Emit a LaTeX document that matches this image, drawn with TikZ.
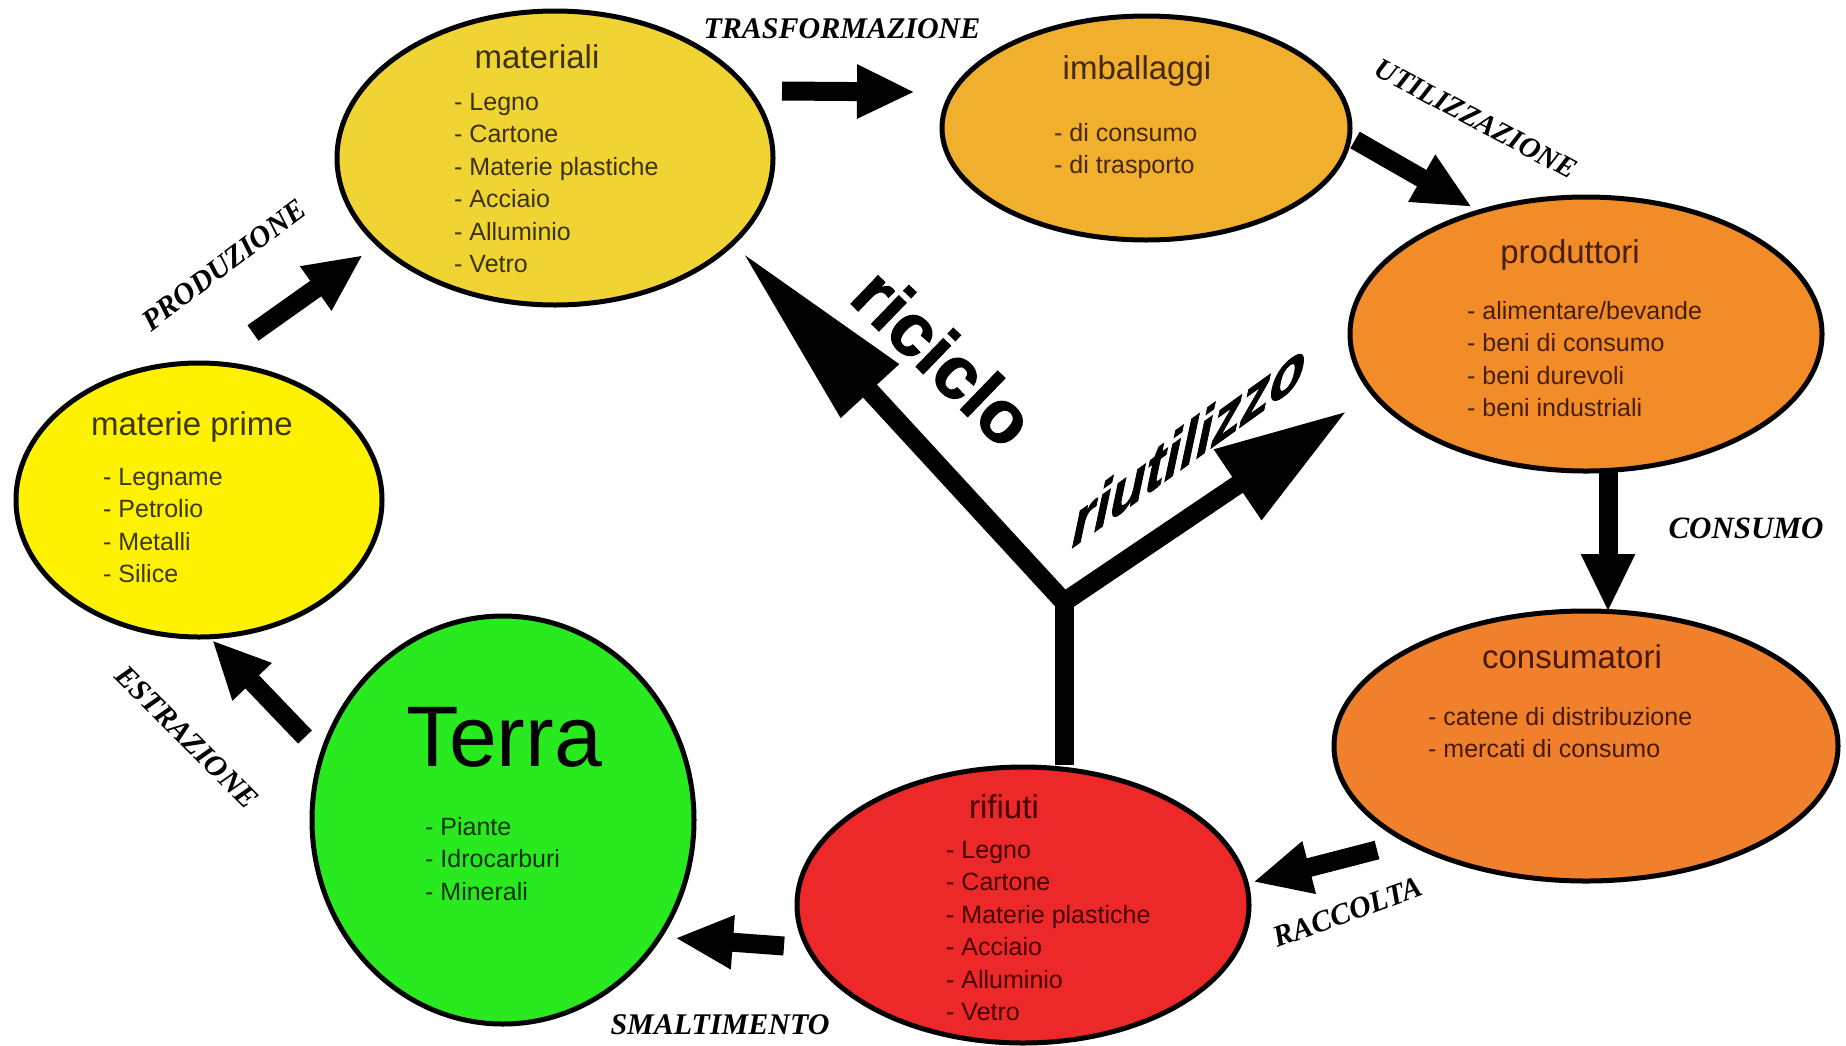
\documentclass[tikz,border=0pt]{standalone}
\usepackage{fontspec}
\setmainfont{Liberation Sans}
\newfontfamily\lblfont{Liberation Serif}
\newfontfamily\heavyfont[BoldFeatures={FakeBold=1.5}]{Liberation Sans}
\usetikzlibrary{shapes.geometric,arrows.meta}
\definecolor{cMP}{RGB}{255,242,0}
\definecolor{cMPT}{RGB}{60,55,0}
\definecolor{cMat}{RGB}{240,212,52}
\definecolor{cMatT}{RGB}{60,50,0}
\definecolor{cImb}{RGB}{240,176,46}
\definecolor{cImbT}{RGB}{70,40,0}
\definecolor{cProd}{RGB}{242,140,40}
\definecolor{cProdT}{RGB}{70,30,0}
\definecolor{cCons}{RGB}{240,128,44}
\definecolor{cConsT}{RGB}{70,25,0}
\definecolor{cRif}{RGB}{236,40,40}
\definecolor{cRifT}{RGB}{70,0,0}
\definecolor{cTerra}{RGB}{40,234,30}
\definecolor{cTerraT}{RGB}{10,50,0}
\tikzset{
  ell/.style={ellipse, draw=black, line width=5pt, inner sep=0pt},
  ttl/.style={font=\fontsize{33}{40}\selectfont, text height=24pt, text depth=0pt, inner sep=0pt},
  itm/.style={font=\fontsize{25}{32.5}\selectfont, align=left, anchor=north west, inner sep=0pt},
  lbl/.style={font=\lblfont\bfseries\itshape\fontsize{30}{36}\selectfont, inner sep=0pt},
  blk/.style={line width=19pt, -{Triangle[length=58pt,width=50pt]}},
}
\begin{document}
\begin{tikzpicture}[x=1pt,y=-1pt]
\useasboundingbox (0,0) rectangle (1846,1045);
\fill[white] (0,0) rectangle (1846,1045);

% ellipses
\node[ell, fill=cMP, minimum width=366pt, minimum height=274pt] (mp) at (199,500) {};
\node[ell, fill=cMat, minimum width=436pt, minimum height=294pt] (mat) at (555,158) {};
\node[ell, fill=cImb, minimum width=408pt, minimum height=224pt] (imb) at (1146,128) {};
\node[ell, fill=cProd, minimum width=472pt, minimum height=274pt] (prod) at (1586,334) {};
\node[ell, fill=cCons, minimum width=504pt, minimum height=270pt] (cons) at (1586,746) {};
\node[ell, fill=cRif, minimum width=452pt, minimum height=276pt] (rif) at (1023,905) {};
\node[ell, fill=cTerra, minimum width=382pt, minimum height=408pt] (terra) at (503,820) {};

% block arrows
\coordinate (t1) at (782,91);   \coordinate (h1) at (915,92);
\coordinate (t2) at (1355,140); \coordinate (h2) at (1472,207);
\coordinate (t3) at (253,333);  \coordinate (h3) at (363,255);
\coordinate (t4) at (305,737);  \coordinate (h4) at (212,640);
\coordinate (t5) at (1608,470); \coordinate (h5) at (1608,612);
\coordinate (t6) at (1377,850); \coordinate (h6) at (1253,882);
\coordinate (t7) at (784,946);  \coordinate (h7) at (675,938);
\draw[blk] (t1) -- (h1);
\draw[blk] (t2) -- (h2);
\draw[blk] (t3) -- (h3);
\draw[blk] (t4) -- (h4);
\draw[blk] (t5) -- (h5);
\draw[blk] (t6) -- (h6);
\draw[blk] (t7) -- (h7);

% Y arrows
\coordinate (J) at (1064,602);
\coordinate (ricT) at (742,252);
\coordinate (riuT) at (1347,411);
\draw[line width=19pt] (J |- rif.north) -- ([yshift=-2pt]J);
\draw[line width=19pt, line join=miter, {Triangle[length=189pt,width=74pt]}-{Triangle[length=132pt,width=80pt]}] (ricT) -- (J) -- (riuT);

% titles
\node[ttl, text=cMPT] (mpT) at (192,423) {materie prime};
\node[ttl, text=cMatT] (matT) at (537,56) {materiali};
\node[ttl, text=cImbT] (imbT) at (1137,67) {imballaggi};
\node[ttl, text=cProdT] (prodT) at (1570,251) {produttori};
\node[ttl, text=cConsT] (consT) at (1572,656) {consumatori};
\node[ttl, text=cRifT] (rifT) at (1004,806) {rifiuti};
\node[font=\fontsize{86}{90}\selectfont, inner sep=0pt, text height=62pt, text depth=0pt] (terraT) at (504,735) {Terra};

% items
\node[itm, text=cMPT] (mpI) at (103,468) {- Legname\\- Petrolio\\- Metalli\\- Silice};
\node[itm, text=cMatT] (matI) at (454,93) {- Legno\\- Cartone\\- Materie plastiche\\- Acciaio\\- Alluminio\\- Vetro};
\node[itm, text=cImbT] (imbI) at (1054,123) {- di consumo\\- di trasporto};
\node[itm, text=cProdT] (prodI) at (1467,301) {- alimentare/bevande\\- beni di consumo\\- beni durevoli\\- beni industriali};
\node[itm, text=cConsT] (consI) at (1428,707) {- catene di distribuzione\\- mercati di consumo};
\node[itm, text=cRifT] (rifI) at (946,841) {- Legno\\- Cartone\\- Materie plastiche\\- Acciaio\\- Alluminio\\- Vetro};
\node[itm, text=cTerraT] (terraI) at (425,817) {- Piante\\- Idrocarburi\\- Minerali};

% labels
\node[lbl] (lTras) at (842,29) {TRASFORMAZIONE};
\node[lbl, rotate=-28, font=\lblfont\bfseries\itshape\fontsize{29}{34}\selectfont] (lUtil) at (1476,119) {UTILIZZAZIONE};
\node[lbl, rotate=37] (lProd) at (224,265) {PRODUZIONE};
\node[lbl, rotate=-45] (lEstr) at (187,737) {ESTRAZIONE};
\node[lbl, font=\lblfont\bfseries\itshape\fontsize{31}{36}\selectfont] (lCons) at (1746,528) {CONSUMO};
\node[lbl, rotate=20] (lRacc) at (1348,912) {RACCOLTA};
\node[lbl] (lSmal) at (720,1025) {SMALTIMENTO};

% big words
\node[font=\heavyfont\bfseries\fontsize{74}{80}\selectfont, rotate=-44, inner sep=0pt] (ric) at (944,357) {riciclo};
\begin{scope}[shift={(1190,442)}, rotate=-12, yslant=1.1, xscale=0.66]
\node[transform shape, font=\heavyfont\bfseries\fontsize{72}{80}\selectfont, inner sep=0pt] (riu) at (0,0) {riutilizzo};
\end{scope}
\end{tikzpicture}
\end{document}
